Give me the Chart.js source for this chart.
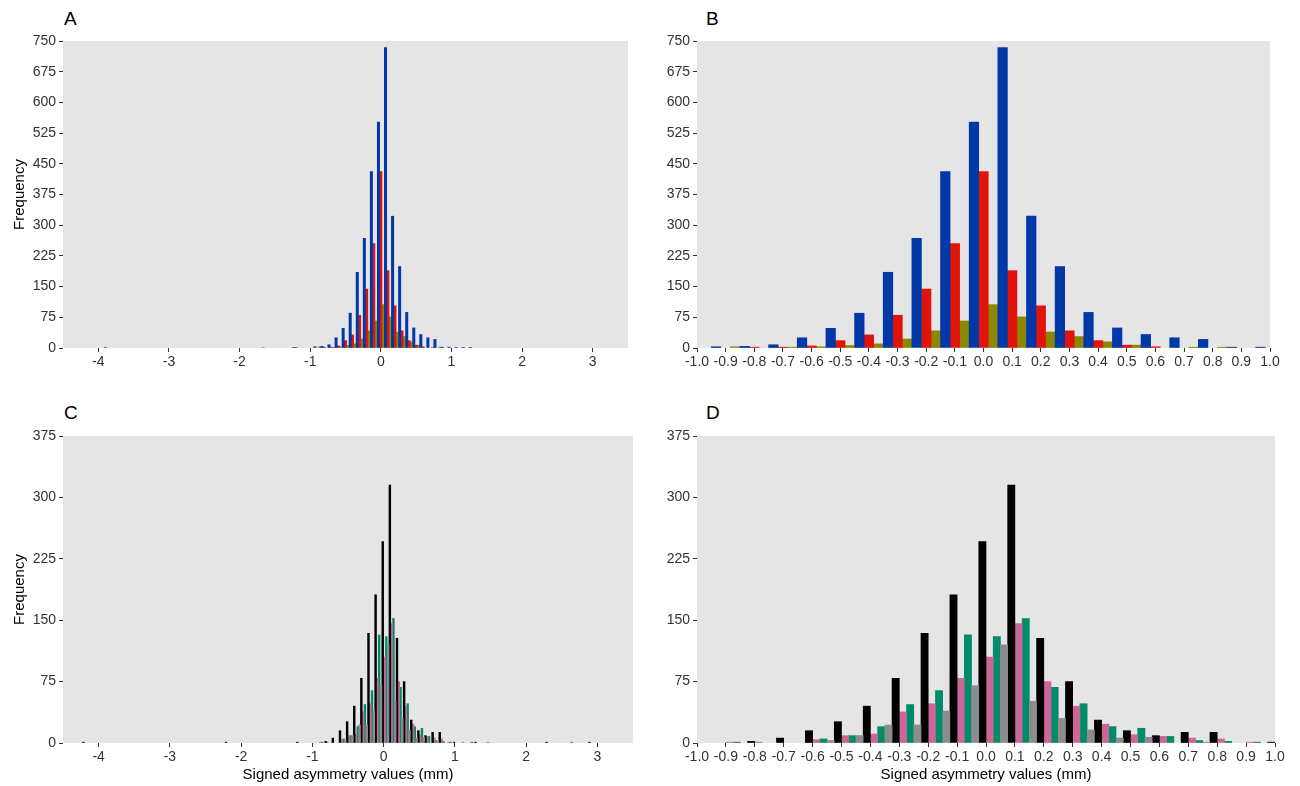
<!DOCTYPE html>
<html>
<head>
<meta charset="utf-8">
<title>Signed asymmetry histograms</title>
<script src="https://cdn.jsdelivr.net/npm/chart.js@4/dist/chart.umd.min.js"></script>
<style>
  html, body { margin: 0; padding: 0; background: #fff; }
  body { width: 1300px; height: 786px; position: relative; overflow: hidden; font-family: 'Liberation Sans', Arial, sans-serif; }
  canvas { position: absolute; }
  .tag { position: absolute; font-size: 19px; line-height: 1; color: #000; }
</style>
</head>
<body>
<div class="tag" style="left:64px;top:9px">A</div>
<div class="tag" style="left:706px;top:9px">B</div>
<div class="tag" style="left:64px;top:403px">C</div>
<div class="tag" style="left:706px;top:403px">D</div>
<canvas id="panel-a" width="650" height="393" style="left:0;top:0"></canvas>
<canvas id="panel-b" width="650" height="393" style="left:650px;top:0"></canvas>
<canvas id="panel-c" width="650" height="393" style="left:0;top:393px"></canvas>
<canvas id="panel-d" width="650" height="393" style="left:650px;top:393px"></canvas>
<script>
// top row (A, B): bin centres and counts per group
var binsTop = [-3.9, -1.7, -1.2, -1.0, -0.9, -0.8, -0.7, -0.6, -0.5, -0.4, -0.3, -0.2, -0.1, 0.0,
  0.1, 0.2, 0.3, 0.4, 0.5, 0.6, 0.7, 0.8, 0.9, 1.0, 1.1, 1.2, 1.3];
var blueCounts  = [0, 0, 1, 0, 3, 4, 8, 25, 48, 85, 185, 268, 431, 552, 734, 322, 199, 87, 49, 33, 25, 21, 2, 2, 1, 1, 1];
var redCounts   = [1, 0, 1, 0, 0, 2, 2, 5, 18, 32, 80, 144, 255, 431, 189, 103, 42, 18, 7, 3, 0, 0, 0, 0, 0, 0, 0];
var oliveCounts = [0, 1, 0, 0, 3, 0, 2, 3, 6, 10, 22, 42, 66, 106, 76, 39, 28, 15, 7, 0, 2, 2, 0, 0, 0, 0, 0];

// bottom row (C, D)
var binsBottom = [-4.2, -2.2, -1.2, -0.9, -0.8, -0.7, -0.6, -0.5, -0.4, -0.3, -0.2, -0.1, 0.0, 0.1,
  0.2, 0.3, 0.4, 0.5, 0.6, 0.7, 0.8, 0.9, 1.0, 1.1, 1.2, 1.3, 1.5, 2.3, 2.6, 2.9];
var greyCounts  = [0, 0, 0, 0, 0, 0, 0, 3, 9, 22, 22, 39, 70, 120, 51, 30, 16, 6, 7, 0, 1, 0, 0, 0, 0, 0, 1, 0, 0, 0];
var blackCounts = [1, 1, 1, 0, 2, 6, 15, 26, 45, 79, 134, 181, 246, 315, 128, 75, 28, 15, 9, 13, 13, 0, 1, 0, 0, 1, 0, 1, 0, 1];
var pinkCounts  = [0, 0, 0, 1, 1, 0, 4, 9, 11, 38, 48, 79, 105, 146, 75, 45, 23, 10, 8, 6, 5, 1, 0, 1, 0, 0, 0, 0, 0, 0];
var greenCounts = [0, 0, 0, 1, 0, 0, 5, 9, 20, 47, 64, 132, 130, 152, 68, 48, 20, 18, 8, 3, 2, 1, 0, 0, 1, 0, 0, 0, 1, 0];

var wideTicks = [-4, -3, -2, -1, 0, 1, 2, 3];
var zoomTicks = [-1.0, -0.9, -0.8, -0.7, -0.6, -0.5, -0.4, -0.3, -0.2, -0.1, 0.0,
  0.1, 0.2, 0.3, 0.4, 0.5, 0.6, 0.7, 0.8, 0.9, 1.0];
var topYTicks = [0, 75, 150, 225, 300, 375, 450, 525, 600, 675, 750];
var bottomYTicks = [0, 75, 150, 225, 300, 375];

(function () {
  'use strict';

  var FONT = "'Liberation Sans', Arial, sans-serif";
  var TICK_COLOR = '#333333';

  Chart.defaults.font.family = FONT;

  // grey panel background, ggplot style
  var panelBg = {
    id: 'panelBg',
    beforeDraw: function (chart) {
      var a = chart.chartArea;
      var ctx = chart.ctx;
      ctx.save();
      ctx.fillStyle = '#E5E5E5';
      ctx.fillRect(a.left, a.top, a.right - a.left, a.bottom - a.top);
      ctx.restore();
    }
  };

  function toPoints(bins, counts) {
    return bins.map(function (b, i) { return { x: b, y: counts[i] }; })
      .filter(function (p) { return p.y > 0; });
  }

  function fixedTicks(list) {
    return function (scale) {
      scale.ticks = list.map(function (v) { return { value: v }; });
    };
  }

  function makePanel(id, o) {
    var datasets = o.series.map(function (s) {
      return {
        data: toPoints(o.bins, s.counts),
        backgroundColor: s.color,
        borderWidth: 0,
        categoryPercentage: 1,
        barPercentage: 1
      };
    });

    return new Chart(document.getElementById(id), {
      type: 'bar',
      data: { datasets: datasets },
      plugins: [panelBg],
      options: {
        responsive: false,
        animation: false,
        devicePixelRatio: 1,
        layout: { padding: { top: o.padTop, right: o.padRight, bottom: 0, left: 0 } },
        plugins: { legend: { display: false }, tooltip: { enabled: false } },
        scales: {
          x: {
            type: 'linear',
            offset: false,
            min: o.xMin,
            max: o.xMax,
            afterBuildTicks: fixedTicks(o.xTicks),
            afterFit: function (s) { s.height = o.xHeight; },
            grid: { offset: false, drawOnChartArea: false, drawTicks: true, tickLength: 4, tickColor: TICK_COLOR },
            border: { display: false },
            ticks: {
              autoSkip: false,
              maxRotation: 0,
              padding: 2,
              color: TICK_COLOR,
              font: { size: 14 },
              callback: o.xFmt
            },
            title: {
              display: !!o.xTitle,
              text: 'Signed asymmetry values (mm)',
              color: '#000',
              font: { size: 15 },
              padding: { top: 0, bottom: 2 }
            }
          },
          y: {
            min: 0,
            max: o.yMax,
            afterBuildTicks: fixedTicks(o.yTicks),
            afterFit: function (s) { s.width = o.yWidth; },
            grid: { drawOnChartArea: false, drawTicks: true, tickLength: 4, tickColor: TICK_COLOR },
            border: { display: false },
            ticks: { padding: 3, color: TICK_COLOR, font: { size: 14 } },
            title: {
              display: !!o.yTitle,
              text: 'Frequency',
              color: '#000',
              font: { size: 15 },
              padding: { top: 11, bottom: 0 }
            }
          }
        }
      }
    });
  }

  function intLabel(v) { return String(v); }
  function oneDecimal(v) { return Number(v).toFixed(1); }

  var topSeries = [
    { counts: blueCounts, color: '#0038A8' },
    { counts: redCounts, color: '#E0140A' },
    { counts: oliveCounts, color: '#8B8700' }
  ];
  var bottomSeries = [
    { counts: greyCounts, color: '#8C8C8C' },
    { counts: blackCounts, color: '#000000' },
    { counts: pinkCounts, color: '#CC6699' },
    { counts: greenCounts, color: '#008C6A' }
  ];

  makePanel('panel-a', {
    bins: binsTop, series: topSeries,
    xMin: -4.5, xMax: 3.5, xTicks: wideTicks, xFmt: intLabel,
    yMax: 750, yTicks: topYTicks,
    padTop: 41, padRight: 22, yWidth: 63, xHeight: 45, yTitle: true
  });
  makePanel('panel-b', {
    bins: binsTop, series: topSeries,
    xMin: -1, xMax: 1, xTicks: zoomTicks, xFmt: oneDecimal,
    yMax: 750, yTicks: topYTicks,
    padTop: 41, padRight: 30, yWidth: 47, xHeight: 45
  });
  makePanel('panel-c', {
    bins: binsBottom, series: bottomSeries,
    xMin: -4.5, xMax: 3.5, xTicks: wideTicks, xFmt: intLabel,
    yMax: 375, yTicks: bottomYTicks,
    padTop: 43, padRight: 17, yWidth: 63, xHeight: 43, yTitle: true, xTitle: true
  });
  makePanel('panel-d', {
    bins: binsBottom, series: bottomSeries,
    xMin: -1, xMax: 1, xTicks: zoomTicks, xFmt: oneDecimal,
    yMax: 375, yTicks: bottomYTicks,
    padTop: 43, padRight: 25, yWidth: 47, xHeight: 43, xTitle: true
  });
})();
</script>
</body>
</html>
